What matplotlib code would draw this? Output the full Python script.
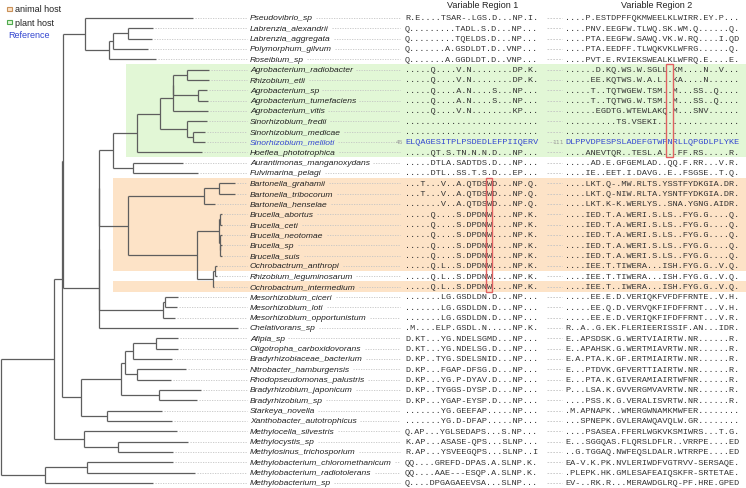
import matplotlib
matplotlib.use('Agg')
import matplotlib.pyplot as plt
from matplotlib.patches import Rectangle

species = [
    'Pseudovibrio_sp', 'Labrenzia_alexandrii', 'Labrenzia_aggregata', 'Polymorphum_gilvum',
    'Roseibium_sp', 'Agrobacterium_radiobacter', 'Rhizobium_etli', 'Agrobacterium_sp',
    'Agrobacterium_tumefaciens', 'Agrobacterium_vitis', 'Sinorhizobium_fredii',
    'Sinorhizobium_medicae', 'Sinorhizobium_meliloti', 'Hoeflea_phototrophica',
    'Aurantimonas_manganoxydans', 'Fulvimarina_pelagi', 'Bartonella_grahamii',
    'Bartonella_tribocorum', 'Bartonella_henselae', 'Brucella_abortus', 'Brucella_ceti',
    'Brucella_neotomae', 'Brucella_sp', 'Brucella_suis', 'Ochrobactrum_anthropi',
    'Rhizobium_leguminosarum', 'Ochrobactrum_intermedium', 'Mesorhizobium_ciceri',
    'Mesorhizobium_loti', 'Mesorhizobium_opportunistum', 'Chelativorans_sp', 'Afipia_sp',
    'Oligotropha_carboxidovorans', 'Bradyrhizobiaceae_bacterium', 'Nitrobacter_hamburgensis',
    'Rhodopseudomonas_palustris', 'Bradyrhizobium_japonicum', 'Bradyrhizobium_sp',
    'Starkeya_novella', 'Xanthobacter_autotrophicus', 'Methylocella_silvestris',
    'Methylocystis_sp', 'Methylosinus_trichosporium', 'Methylobacterium_chloromethanicum',
    'Methylobacterium_radiotolerans', 'Methylobacterium_sp',
]

region1 = [
    'R.E....TSAR-.LGS.D...NP.I.', 'Q.........TADL.S.D...NP...', 'Q.........TQELDS.D...NP...',
    'Q.......A.GSDLDT.D..VNP...', 'Q.......A.GGDLDT.D..VNP...', '.....Q....V.N........DP.K.',
    '.....Q....V.N........DP.K.', '.....Q....A.N....S...NP...', '.....Q....A.N....S...NP...',
    '.....Q....V.N........KP...', '..........................', '..........................',
    'ELQAGESITPLPSDEDLEFPIIQERV', '.....QT.S.TN.N.N.D...NP...', '.....DTLA.SADTDS.D...NP...',
    '.....DTL..SS.T.S.D...EP...', '...T...V..A.QTDSWD...NP.Q.', '...T...V..A.QTDSWD...NP.Q.',
    '.......V..A.QTDSWD...NP.Q.', '.....Q....S.DPDNW....NP.K.', '.....Q....S.DPDNW....NP.K.',
    '.....Q....S.DPDNW....NP.K.', '.....Q....S.DPDNW....NP.K.', '.....Q....S.DPDNW....NP.K.',
    '.....Q.L..S.DPDNW....NP.K.', '.....Q.L..S.DPDNW....NP.K.', '.....Q.L..S.DPDNW....NP.K.',
    '.......LG.GSDLDN.D...NP...', '.......LG.GSDLDN.D...NP...', '.......LG.GSDLDN.D...NP...',
    '.M....ELP.GSDL.N.....NP.K.', 'D.KT...YG.NDELSGMD...NP...', 'D.KT...YG.NDELSG.D...NP...',
    'D.KP..TYG.SDELSNID...NP...', 'D.KP...FGAP-DFSG.D...NP...', 'D.KP...YG.P-DYAV.D...NP...',
    'D.KP..TYGGS-DYSP.D...NP...', 'D.KP...YGAP-EYSP.D...NP...', '.......YG.GEEFAP.....NP...',
    '.......YG.D-DFAP.....NP...', 'Q.AP...YGLSEDAPS...S.NP...', 'K.AP...ASASE-QPS...SLNP...',
    'R.AP...YSVEEGQPS...SLNP..I', 'QQ....GREFD-DPAS.A.SLNP.K.', 'QQ....AAE---ESQP.A.SLNP.K.',
    'Q....DPGAGAEEVSA...SLNP...',
]

region2 = [
    '....P.ESTDPFFQKMWEELKLWIRR.EY.P...', '....PNV.EEGFW.TLWQ.SK.WM.Q......Q.',
    '....PTA.EEGFW.SAWQ.VK.W.RQ....I.QD', '....PTA.EEDFF.TLWQKVKLWFRG......Q.',
    '....PVT.E.RVIEKSWEALKLWFRQ.E....E.', '......D.KQ.WS.W.SGLL.KM....N..V...',
    '.....EE.KQTWS.W.A.L..KA....N......', '.....T..TQTWGEW.TSM..M...SS..Q....',
    '.....T..TQTWG.W.TSM..M...SS..Q....', '......EGDTG.WTEWLAKQ.M...SNV......',
    '..........TS.VSEKI................', '..................................',
    'DLPPVDPESPSLADEFGTWFNRLLQPGDLPLYKE', '....ANEVTQR..TESL.A...FF.RS.....R.',
    '.....AD.E.GFGEMLAD..QQ.F.RR...V.R.', '....IE..EET.I.DAVG..E..FSGSE..T.Q.',
    '....LKT.Q-.MW.RLTS.YSSTFYDKGIA.DR.', '....LKT.Q-NIW.RLTA.YSNTFYDKGIA.DR.',
    '....LKT.K-K.WERLYS..SNA.YGNG.AIDR.', '....IED.T.A.WERI.S.LS..FYG.G....Q.',
    '....IED.T.A.WERI.S.LS..FYG.G....Q.', '....IED.T.A.WERI.S.LS..FYG.G....Q.',
    '....IED.T.A.WERI.S.LS..FYG.G....Q.', '....IED.T.A.WERI.S.LS..FYG.G....Q.',
    '....IEE.T.TIWERA...ISH.FYG.G..V.Q.', '....IEE.T.TIWERA...ISH.FYG.G..V.Q.',
    '....IEE.T..IWERA...ISH.FYG.G..V.Q.', '.....EE.E.D.VERIQKFVFDFFRNTE..V.H.',
    '.....EE.Q.D.VERVQKFIFDFFRNT...V.H.', '.....EE.E.D.VERIQKFIFDFFRNT...V.R.',
    'R..A..G.EK.FLERIEERISSIF.AN...IDR.', 'E..APSDSK.G.WERTVIAIRTW.NR......R.',
    'E..APAHSK.G.WERTMIAVRTW.NR......R.', 'E.A.PTA.K.GF.ERTMIAIRTW.NR......R.',
    'E...PTDVK.GFVERTTIAIRTW.NR......R.', 'E...PTA.K.GIVERAMIAIRTWFNR......R.',
    'P...LSA.K.GVVERGMVAVRTW.NR......R.', '....PSS.K.G.VERALISVRTW.NR......R.',
    '.M.APNAPK..WMERGWNAMKMWFER........', '...SPNEPK.GVLERAWQAVQLW.GR........',
    '....PSASEA.FFERLWGKVKSMIWRS...T.G.', 'E...SGGQAS.FLQRSLDFLR..VRRPE....ED',
    '..G.TGGAQ.NWFEQSLDALR.WTRRPE....ED', 'EA-V.K.PK.NVLERIWDFVGTRVV-SERSAQE.',
    '.PLEPK.HK.GMLESAFEAIQSKFR-SRTETAE.', 'EV-..RK.R...MERAWDGLRQ-PF.HRE.GPED',
]

# tip depth of each leaf (pixels from the left edge)
tip_x = [193, 153, 152, 148, 156, 209, 209, 207, 208, 208, 207, 205, 205, 202, 183, 198,
         235, 235, 215, 222, 222, 222, 222, 222, 217, 217, 214, 178, 177, 175, 238, 178,
         178, 172, 186, 171, 201, 197, 162, 172, 177, 188, 173, 173, 195, 153]

# internal nodes: (depth, [children]); ints are leaf rows
tree = (1, [
    (54, [
        (62, [
            (63, [
                (85, [0, (109, [(113, [(128, [1, 2]), 3]), 4])]),
                (99, [
                    (99, [
                        (99, [
                            (113, [
                                (137, [
                                    (160, [
                                        (173, [(173, [(187, [5, 6]), (198, [7, 8])]), 9]),
                                        (187, [10, (193, [11, 12])]),
                                    ]),
                                    13,
                                ]),
                                (133, [14, 15]),
                            ]),
                            (128, [
                                (204, [(219, [16, 17]), 18]),
                                (197, [
                                    (219, [(220, [19, 20]), (220, [21, (220, [22, 23])])]),
                                    (213, [(215, [24, 25]), 26]),
                                ]),
                            ]),
                        ]),
                        (163, [(165, [27, 28]), 29]),
                    ]),
                    30,
                ]),
            ]),
            (81, [
                (121, [
                    (125, [(133, [(156, [31, 32]), 33]), (137, [34, 35])]),
                    (159, [36, 37]),
                ]),
                (107, [38, 39]),
            ]),
        ]),
        (84, [40, (118, [41, 42])]),
    ]),
    (45, [(87, [43, 44]), 45]),
])

plant_rows = (5, 13)
animal_rows = [(16, 24), (26, 26)]
ref_row = 12
ref_start = ['45', '111']
highlight1 = (16, 16, 26)   # column, first row, last row
highlight2 = (20, 5, 13)
legend_items = [('animal host', '#fde3c7', '#c8915a'), ('plant host', '#e2f7d6', '#4ea84e')]

ROW0, DY = 19.0, 10.33
BLUE = '#3346d0'
TREE_C = '#5e5e5e'
DOT_C = '#c4c4c4'
MONO = 'Liberation Mono'
FS_SEQ = 6.1
PITCH = 0.6 * FS_SEQ * 100 / 72
X_NAME, X_R1, X_R2 = 250, 405, 565

fig = plt.figure(figsize=(7.46, 4.89), dpi=100)
ax = fig.add_axes([0, 0, 1, 1])
ax.set_xlim(0, 746)
ax.set_ylim((489 - ROW0) / DY, -ROW0 / DY)
ax.axis('off')

# host bands
r0, r1 = plant_rows
ax.add_patch(Rectangle((126, r0 - 0.5), 746 - 126, r1 - r0 + 1, color='#e2f7d6', lw=0, zorder=0))
for r0, r1 in animal_rows:
    ax.add_patch(Rectangle((113, r0 - 0.5), 746 - 113, r1 - r0 + 1, color='#fde3c7', lw=0, zorder=0))


def draw(node):
    if isinstance(node, int):
        return tip_x[node], node
    x, kids = node
    pts = [draw(k) for k in kids]
    ys = [p[1] for p in pts]
    for kx, ky in pts:
        ax.plot([x, kx], [ky, ky], color=TREE_C, lw=0.9, solid_capstyle='butt', zorder=2)
    ax.plot([x, x], [min(ys), max(ys)], color=TREE_C, lw=0.9, solid_capstyle='butt', zorder=2)
    return x, (ys[0] + ys[-1]) / 2


draw(tree)

fig.canvas.draw()
rend = fig.canvas.get_renderer()
inv = ax.transData.inverted()

for i, name in enumerate(species):
    col = BLUE if i == ref_row else '#222222'
    t = ax.text(X_NAME, i, name, fontsize=6.1, style='italic', family='Liberation Sans',
                color=col, va='center', ha='left', zorder=3)
    ax.plot([tip_x[i] + 2, X_NAME - 3], [i, i], color=DOT_C, lw=0.6, ls=(0, (1.5, 1.5)), zorder=1)
    x_end = inv.transform(t.get_window_extent(rend))[1][0]
    ax.plot([x_end + 3, X_R1 - 5], [i, i], color=DOT_C, lw=0.6, ls=(0, (1.5, 1.5)), zorder=1)

    scol = BLUE if i == ref_row else '#333333'
    ax.text(X_R1, i, region1[i], fontsize=FS_SEQ, family=MONO, color=scol, va='center', ha='left')
    ax.text(X_R2, i, region2[i], fontsize=FS_SEQ, family=MONO, color=scol, va='center', ha='left')
    if i == ref_row:
        ax.text(X_R1 - 1.5, i, ref_start[0], fontsize=4.3, color='#999999', va='center', ha='right')
        ax.text(X_R2 - 1.5, i, ref_start[1], fontsize=4.3, color='#999999', va='center', ha='right')
        ax.plot([X_R2 - 18, X_R2 - 11], [i, i], color=DOT_C, lw=0.6, ls=(0, (2, 1.5)))
    else:
        ax.plot([X_R2 - 18, X_R2 - 3], [i, i], color=DOT_C, lw=0.6, ls=(0, (2, 1.5)))

for x0, (c, a, b) in [(X_R1, highlight1), (X_R2, highlight2)]:
    ax.add_patch(Rectangle((x0 + c * PITCH - 0.8, a - 0.5), PITCH + 1.6, b - a + 1,
                           fill=False, ec='#e06060', lw=1.0, zorder=4))

ax.text(X_R1 + 13 * PITCH + 12, -1.3, 'Variable Region 1', fontsize=6.5, family='Liberation Sans',
        color='#222222', ha='center', va='center')
ax.text(X_R2 + 17 * PITCH + 5, -1.3, 'Variable Region 2', fontsize=6.5, family='Liberation Sans',
        color='#222222', ha='center', va='center')

# legend
for k, (lab, fc, ec) in enumerate(legend_items):
    yy = (10 + 13 * k - ROW0) / DY
    ax.add_patch(Rectangle((7, yy - 0.22), 4.5, 0.44, fc=fc, ec=ec, lw=0.8))
    ax.text(15, yy, lab, fontsize=6.5, family='Liberation Sans', color='#222222', va='center')
ax.text(8, (36 - ROW0) / DY, 'Reference', fontsize=6.5, family='Liberation Sans', color=BLUE, va='center')

fig.savefig('out.png', dpi=100)
